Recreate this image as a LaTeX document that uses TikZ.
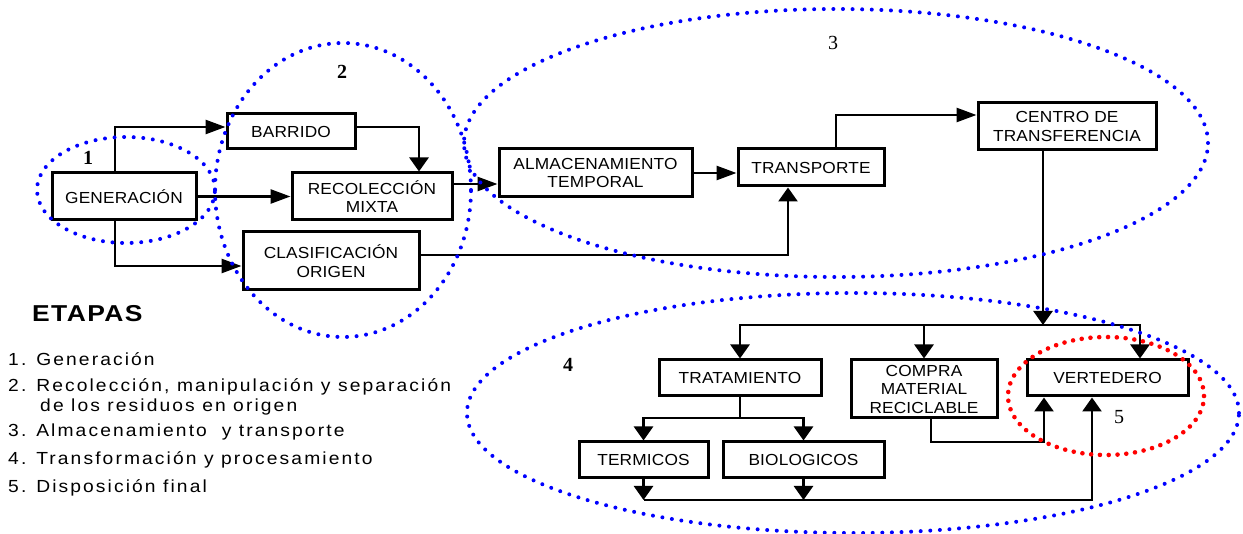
\documentclass[tikz,border=0pt]{standalone}
\usepackage{fontspec}
\setmainfont{Liberation Sans}
\newfontfamily\boxfont{Liberation Sans}[FakeStretch=1.08,LetterSpace=1]
\newfontfamily\listfont{Liberation Sans}[FakeStretch=1.1,LetterSpace=12]
\newfontfamily\headfont{Liberation Sans}[FakeStretch=1.15,LetterSpace=6]
\newfontfamily\numfont{Liberation Serif}
\usetikzlibrary{arrows.meta}
\definecolor{dotblue}{RGB}{0,0,255}
\definecolor{dotred}{RGB}{255,0,0}
\begin{document}
\begin{tikzpicture}[x=1pt,y=-1pt,
  stepbox/.style={draw,line width=3pt,inner sep=0pt,align=center,
    font=\boxfont\fontsize{16}{18.5}\selectfont},
  conn/.style={line width=2.7pt},
  harr/.style={conn,-{Triangle[length=20pt,width=14pt]}},
  varr/.style={conn,-{Triangle[length=14pt,width=19pt]}},
  bluedots/.style={dotblue,line width=4pt,line cap=round,dash pattern=on 0pt off 9.6pt},
  reddots/.style={dotred,line width=4.6pt,line cap=round,dash pattern=on 0pt off 8.8pt},
  bignum/.style={font=\numfont\bfseries\fontsize{20}{20}\selectfont,inner sep=0pt},
  thinnum/.style={font=\numfont\fontsize{20}{20}\selectfont,inner sep=0pt},
  listline/.style={anchor=base west,inner sep=0pt,font=\listfont\fontsize{17.5}{17.5}\selectfont}
]
\useasboundingbox (0,0) rectangle (1243,534);

% boxes
\node[stepbox,minimum width=144pt,minimum height=47pt] (gen) at (124,196.5) {GENERACIÓN};
\node[stepbox,minimum width=128pt,minimum height=35pt] (barrido) at (291,131.5) {BARRIDO};
\node[stepbox,minimum width=160pt,minimum height=47pt] (recol) at (372,196.5) {RECOLECCIÓN\\MIXTA};
\node[stepbox,minimum width=176pt,minimum height=58pt] (clasif) at (331,261) {CLASIFICACIÓN\\ORIGEN};
\node[stepbox,minimum width=193pt,minimum height=48pt] (alm) at (595.5,173) {ALMACENAMIENTO\\TEMPORAL};
\node[stepbox,minimum width=146pt,minimum height=37pt] (transp) at (811,167.5) {TRANSPORTE};
\node[stepbox,minimum width=178pt,minimum height=47pt] (centro) at (1067,126.5) {CENTRO DE\\TRANSFERENCIA};
\node[stepbox,minimum width=162pt,minimum height=36pt] (trat) at (740,378) {TRATAMIENTO};
\node[stepbox,minimum width=146pt,minimum height=58pt] (compra) at (924,389) {COMPRA\\MATERIAL\\RECICLABLE};
\node[stepbox,minimum width=161pt,minimum height=36pt] (vert) at (1107.5,378) {VERTEDERO};
\node[stepbox,minimum width=129pt,minimum height=36pt] (termicos) at (643.5,460) {TERMICOS};
\node[stepbox,minimum width=161pt,minimum height=36pt] (bio) at (803.5,460) {BIOLOGICOS};

% junction points
\coordinate (split) at (1043,325);
\coordinate (tsplit) at (740,418);
\coordinate (collect) at (643.5,500);
\coordinate (cbend) at (1044,442);

% connectors
\draw[harr] ([xshift=-9pt]gen.north) |- ([yshift=4.5pt]barrido.west);
\draw[harr] (gen.east) -- (recol.west);
\draw[harr] ([xshift=-9pt]gen.south) |- ([yshift=-5pt]clasif.west);
\draw[varr] ([yshift=4.5pt]barrido.east) -| ([xshift=47pt]recol.north);
\draw[harr] ([yshift=12.5pt]recol.east) -- ([yshift=-11pt]alm.west);
\draw[harr] (alm.east) -- (alm.east -| transp.west);
\draw[varr] ([yshift=6pt]clasif.east) -| ([xshift=-23pt]transp.south);
\draw[harr] ([xshift=25pt]transp.north) |- ([yshift=11.5pt]centro.west);
\draw[varr] ([xshift=-24pt]centro.south) -- (split);
\draw[varr] (split) -| (trat.north);
\draw[varr] (split) -| ([xshift=32.5pt]vert.north);
\draw[varr] (split -| compra.north) -- (compra.north);
\draw[conn] (trat.south) -- (tsplit);
\draw[varr] (tsplit) -| (termicos.north);
\draw[varr] (tsplit) -| (bio.north);
\draw[varr] (termicos.south) -- (collect);
\draw[varr] (bio.south) -- (bio.south |- collect);
\draw[varr] (collect) -| ([xshift=-15.5pt]vert.south);
\draw[varr] ([xshift=7pt]compra.south) |- (cbend) -- (cbend |- vert.south);

% stage ellipses
\draw[bluedots] (126,190) ellipse [x radius=89pt, y radius=53pt];
\draw[bluedots] (343,190) ellipse [x radius=128pt, y radius=147pt];
\draw[bluedots] (836,143) ellipse [x radius=372pt, y radius=134pt];
\draw[bluedots] (853,413) ellipse [x radius=386pt, y radius=120pt];
\draw[reddots] (1106,396) ellipse [x radius=98pt, y radius=59pt];

% stage numbers
\node[bignum] (n1) at (88,158) {1};
\node[bignum] (n2) at (342,72) {2};
\node[thinnum] (n3) at (833,43) {3};
\node[bignum] (n4) at (568,365) {4};
\node[thinnum] (n5) at (1119,417) {5};

% legend
\node[anchor=base west,inner sep=0pt,font=\headfont\bfseries\fontsize{23}{23}\selectfont] (etapas) at (32,322) {ETAPAS};
\node[listline] (l1) at (8,366) {1. Generación};
\node[listline] (l2) at (8,392) {2. Recolección, manipulación y separación};
\node[listline] (l2b) at (40,412) {de los residuos en origen};
\node[listline] (l3) at (8,437) {3. Almacenamiento\ \ y transporte};
\node[listline] (l4) at (8,465) {4. Transformación y procesamiento};
\node[listline] (l5) at (8,493) {5. Disposición final};
\end{tikzpicture}
\end{document}
